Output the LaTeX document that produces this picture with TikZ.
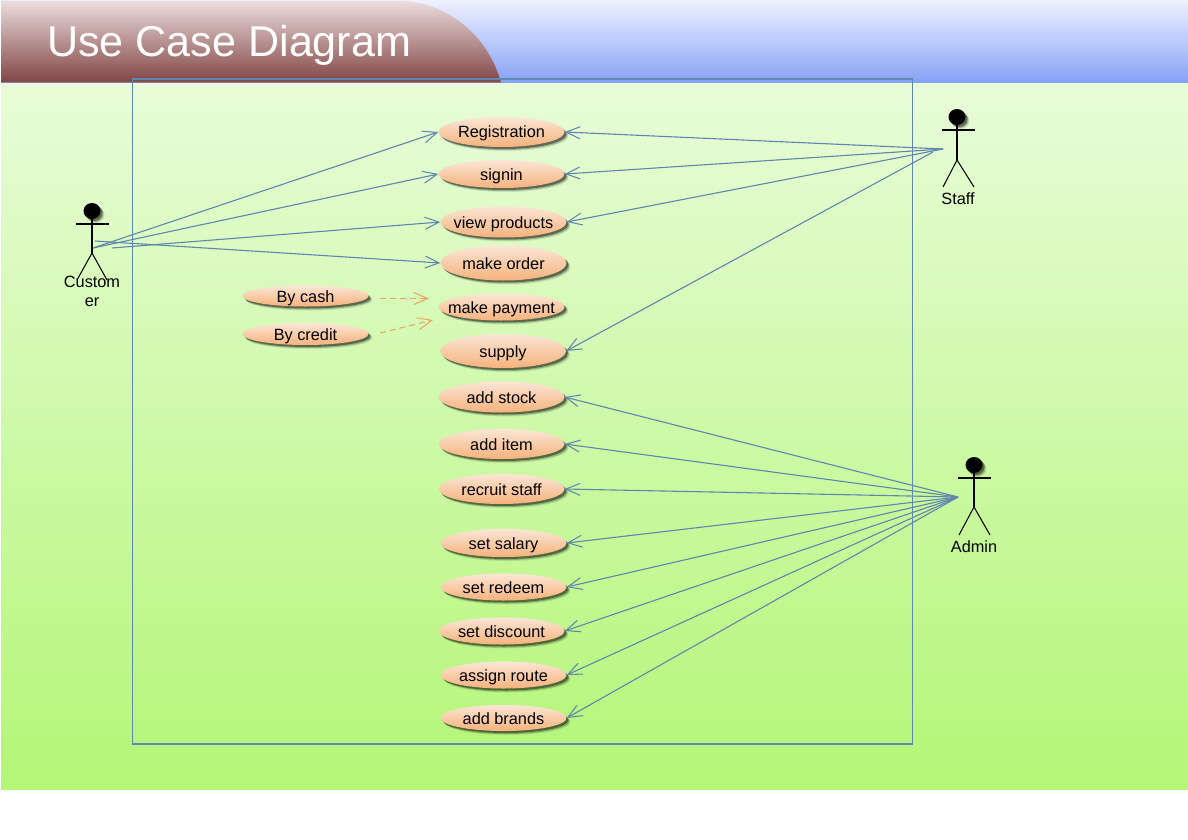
\documentclass[tikz,border=0pt]{standalone}
\usepackage{fontspec}
\setmainfont{Liberation Sans}
\usetikzlibrary{arrows.meta,shapes.geometric,shadows}
\definecolor{linkblue}{HTML}{5F86AE}
\definecolor{dashorange}{HTML}{EBA560}
\definecolor{uctop}{HTML}{FBE6D6}
\definecolor{ucbot}{HTML}{F5B27C}
\definecolor{bgtop}{HTML}{E8FCD8}
\definecolor{bgbot}{HTML}{B3F676}
\definecolor{hdtop}{HTML}{EEF0FF}
\definecolor{hdbot}{HTML}{86A2F5}
\definecolor{tabtop}{HTML}{EBDCDC}
\definecolor{tabbot}{HTML}{824545}
\tikzset{
  softshadow/.style={
    general shadow={shadow xshift=4pt,shadow yshift=-4pt,fill=black,opacity=.10},
    general shadow={shadow xshift=3pt,shadow yshift=-3pt,fill=black,opacity=.22},
    general shadow={shadow xshift=2pt,shadow yshift=-2pt,fill=black,opacity=.40}},
  usecase/.style={ellipse,minimum width=126pt,inner sep=-14pt,text height=15pt,text depth=3pt,
    top color=uctop,bottom color=ucbot,softshadow,
    font=\fontsize{16.3}{19}\selectfont,text=black},
  actortext/.style={inner sep=0pt,align=center,font=\fontsize{16.3}{19}\selectfont,text=black},
  head/.style={ellipse,minimum width=17pt,minimum height=16pt,inner sep=0pt,fill=black,softshadow},
  stick/.style={draw=black,line width=1.05pt},
  assoc/.style={draw=linkblue,line width=1.1pt,-{Straight Barb[length=14pt,width=12pt,line width=1.05pt]}},
  dep/.style={draw=dashorange,line width=1.05pt,dash pattern=on 6pt off 4pt,-{Straight Barb[length=14pt,width=12pt,line width=1.05pt]}},
}
\begin{document}
\begin{tikzpicture}[x=1pt,y=-1pt]
\useasboundingbox (0,0) rectangle (1188,840);
\fill[white] (0,0) rectangle (1188,840);
% backgrounds
\shade[top color=bgtop,bottom color=bgbot] (1,82) rectangle (1188,789.5);
\shade[top color=hdtop,bottom color=hdbot] (1,1) rectangle (1188,82.5);
\shade[top color=tabtop,bottom color=tabbot] (1,1) -- (405,1) .. controls (455,5) and (490,42) .. (501,82.5) -- (1,82.5) -- cycle;
\node[anchor=base west,inner sep=0pt,text=white,font=\fontsize{43.1}{50}\selectfont] (title) at (47,57) {Use Case Diagram};
% system boundary
\node[draw=linkblue,line width=1.05pt,inner sep=0pt,minimum width=780pt,minimum height=665pt] (system) at (522.5,411.5) {};
% use cases
\node[usecase,minimum height=30pt] (reg) at (501.5,132) {Registration};
\node[usecase,minimum height=28pt] (signin) at (501.5,174) {signin};
\node[usecase,minimum height=31pt] (view) at (503.5,222) {view products};
\node[usecase,minimum height=35pt] (order) at (503.5,263) {make order};
\node[usecase,minimum height=27pt] (pay) at (501.5,307) {make payment};
\node[usecase,minimum height=34pt] (supply) at (503,351) {supply};
\node[usecase,minimum height=21pt] (cash) at (305.5,296) {By cash};
\node[usecase,minimum height=22pt] (credit) at (305.5,334) {By credit};
\node[usecase,minimum height=31pt] (stock) at (501.5,397) {add stock};
\node[usecase,minimum height=30pt] (item) at (501.5,444) {add item};
\node[usecase,minimum height=30pt] (recruit) at (501.5,489) {recruit staff};
\node[usecase,minimum height=28pt] (salary) at (503.5,543) {set salary};
\node[usecase,minimum height=27pt] (redeem) at (503.5,587) {set redeem};
\node[usecase,minimum height=27pt] (discount) at (501.5,631) {set discount};
\node[usecase,minimum height=27pt] (route) at (503.5,675) {assign route};
\node[usecase,minimum height=26pt] (brands) at (503.5,718) {add brands};
% actors
\node[head] (h1) at (92,211) {};
\coordinate (c1body) at (92,253);
\draw[stick] (h1) -- (c1body);
\coordinate (c1l) at (76,224); \coordinate (c1r) at (109,224);
\draw[stick] (c1l) -- (c1r);
\coordinate (c1fl) at (77,280); \coordinate (c1fr) at (107,280);
\draw[stick] (c1fl) -- (c1body) -- (c1fr);
\node[actortext] (customer) at (92,291) {Custom\\er};

\node[head] (h2) at (957,117) {};
\coordinate (c2body) at (957,160);
\draw[stick] (h2) -- (c2body);
\coordinate (c2l) at (942,130); \coordinate (c2r) at (975,130);
\draw[stick] (c2l) -- (c2r);
\coordinate (c2fl) at (943,187); \coordinate (c2fr) at (974,187);
\draw[stick] (c2fl) -- (c2body) -- (c2fr);
\node[actortext] (staff) at (958,198.5) {Staff};

\node[head] (h3) at (974,465) {};
\coordinate (c3body) at (974,507);
\draw[stick] (h3) -- (c3body);
\coordinate (c3l) at (958,478); \coordinate (c3r) at (991,478);
\draw[stick] (c3l) -- (c3r);
\coordinate (c3fl) at (959,535); \coordinate (c3fr) at (990,535);
\draw[stick] (c3fl) -- (c3body) -- (c3fr);
\node[actortext] (admin) at (974,546.5) {Admin};
% connector free ends
\coordinate (cu) at (93,248);
\coordinate (cub) at (112,248);
\coordinate (cuc) at (95,241);
\coordinate (st) at (943,149);
\coordinate (stb) at (933,152);
\coordinate (ad) at (958,497);
\coordinate (cashend) at (380,298.5);
\coordinate (cashtip) at (429,298.5);
\coordinate (creditend) at (380,333);
\coordinate (credittip) at (433,320);
% connectors
\draw[assoc] (cu) -- (reg.west);
\draw[assoc] (cu) -- (signin.west);
\draw[assoc] (cub) -- (view.west);
\draw[assoc] (cuc) -- (order.west);
\draw[assoc] (st) -- (reg.east);
\draw[assoc] (st) -- (signin.east);
\draw[assoc] (st) -- (view.east);
\draw[assoc] (stb) -- (supply.east);
\foreach \t in {stock,item,recruit,salary,redeem,discount,route,brands}
  \draw[assoc] (ad) -- (\t.east);
\draw[dep] (cashend) -- (cashtip);
\draw[dep] (creditend) -- (credittip);
\end{tikzpicture}
\end{document}
